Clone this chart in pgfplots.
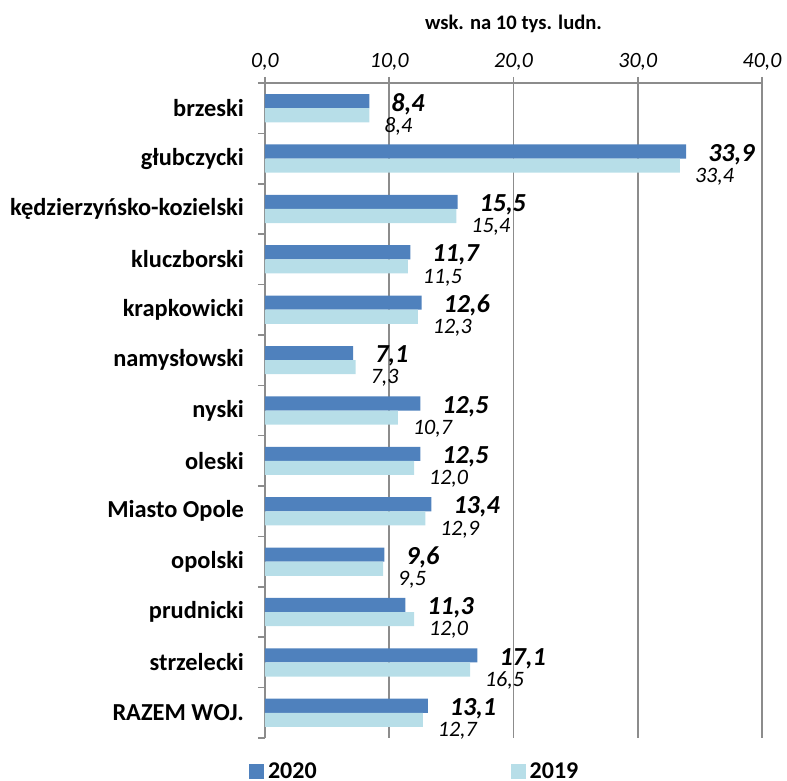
\documentclass[border=0pt]{standalone}
\usepackage{fontspec}
\setmainfont{Carlito}
\usepackage{pgfplots}
\pgfplotsset{compat=1.18}
\definecolor{cA}{HTML}{4F81BD}
\definecolor{cB}{HTML}{B7DEE8}
\definecolor{gridc}{HTML}{8C8C8C}
\begin{document}
\begin{tikzpicture}
\begin{axis}[
  scale only axis, width=248.5pt, height=327.5pt,
  xbar, bar width=0.28,
  y dir=reverse,
  xmin=0, xmax=40, ymin=-0.5, ymax=12.5,
  axis x line=top, axis y line=left,
  axis line style={-, gridc, line width=0.8pt},
  xtick={0,10,20,30,40},
  xmajorgrids, grid style={gridc, line width=0.8pt},
  ytick={0,...,12},
  yticklabels={brzeski,głubczycki,kędzierzyńsko-kozielski,kluczborski,krapkowicki,namysłowski,nyski,oleski,Miasto Opole,opolski,prudnicki,strzelecki,RAZEM WOJ.},
  minor ytick={-0.5,0.5,...,12.5},
  major y tick style={draw=none},
  minor y tick style={gridc, line width=0.8pt},
  major x tick style={gridc, line width=0.8pt},
  tick align=outside,
  major tick length=3pt, minor tick length=3.5pt,
  /pgf/number format/fixed,
  /pgf/number format/fixed zerofill,
  /pgf/number format/precision=1,
  /pgf/number format/use comma,
  /pgf/number format/assume math mode=true,
  xticklabel style={font=\itshape\fontsize{10.9}{13}\selectfont},
  yticklabel style={font=\bfseries\fontsize{12.2}{14}\selectfont, xshift=-4pt},
  title={wsk. na 10 tys. ludn.},
  title style={font=\bfseries\fontsize{10.3}{12}\selectfont, at={(axis description cs:0.5,1)}, anchor=center, yshift=23.5pt},
  legend columns=2,
  legend style={draw=none, fill=none, font=\bfseries\fontsize{12}{14}\selectfont, at={(axis description cs:-0.045,0)}, anchor=north west, yshift=-8pt, /tikz/every even column/.append style={column sep=95pt}},
  point meta=x,
]
\addplot[fill=cA, draw=none, bar shift=-0.14,
  legend image code/.code={\fill[cA] (0pt,-3.75pt) rectangle (7.5pt,3.75pt);},
  nodes near coords,
  every node near coord/.append style={anchor=west, xshift=7.5pt, yshift=-1.5pt, font=\bfseries\itshape\fontsize{13}{15}\selectfont, text=black}]
  coordinates {(8.4,0) (33.9,1) (15.5,2) (11.7,3) (12.6,4) (7.1,5) (12.5,6) (12.5,7) (13.4,8) (9.6,9) (11.3,10) (17.1,11) (13.1,12)};
\addlegendentry{2020}
\addplot[fill=cB, draw=none, bar shift=0.14,
  legend image code/.code={\fill[cB] (0pt,-3.75pt) rectangle (7.5pt,3.75pt);},
  nodes near coords,
  every node near coord/.append style={anchor=west, xshift=4pt, yshift=-5.5pt, font=\itshape\fontsize{11}{13}\selectfont, text=black}]
  coordinates {(8.4,0) (33.4,1) (15.4,2) (11.5,3) (12.3,4) (7.3,5) (10.7,6) (12.0,7) (12.9,8) (9.5,9) (12.0,10) (16.5,11) (12.7,12)};
\addlegendentry{2019}
\end{axis}
\pgfresetboundingbox
\path (-132.5pt,-21.5pt) rectangle (261pt,369pt);
\end{tikzpicture}
\end{document}
